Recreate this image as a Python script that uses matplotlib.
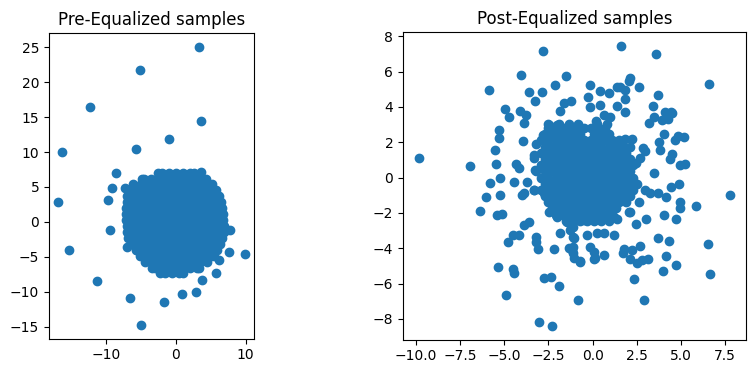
import matplotlib
matplotlib.use("Agg")
import matplotlib.pyplot as plt

# ---------------- Pre-Equalized samples ----------------
# dense core of the constellation (rows: y value, x values)
pre_core_rows = [
    (7.05, [-2.6, -2.0, -1.0, 0.0, 1.0, 2.0, 2.6]),
    (6.2, [-4.9, -4.5, -3.5, -2.5, -1.5, -0.5, 0.5, 1.5, 2.5, 3.5, 4.3]),
    (5.35, [-6.1, -5.0, -4.0, -3.0, -2.0, -1.0, 0.0, 1.0, 2.0, 3.0, 4.0, 5.15]),
    (4.5, [-6.8, -6.5, -5.5, -4.5, -3.5, -2.5, -1.5, -0.5, 0.5, 1.5, 2.5, 3.5, 4.5, 5.5, 5.8]),
    (3.65, [-7.0, -6.0, -5.0, -4.0, -3.0, -2.0, -1.0, 0.0, 1.0, 2.0, 3.0, 4.0, 5.0, 6.0, 6.15]),
    (2.8, [-7.05, -6.5, -5.5, -4.5, -3.5, -2.5, -1.5, -0.5, 0.5, 1.5, 2.5, 3.5, 4.5, 5.5, 6.5]),
    (1.95, [-7.1, -6.0, -5.0, -4.0, -3.0, -2.0, -1.0, 0.0, 1.0, 2.0, 3.0, 4.0, 5.0, 6.0, 6.67]),
    (1.1, [-7.15, -6.5, -5.5, -4.5, -3.5, -2.5, -1.5, -0.5, 0.5, 1.5, 2.5, 3.5, 4.5, 5.5, 6.5, 6.75]),
    (0.25, [-7.1, -6.0, -5.0, -4.0, -3.0, -2.0, -1.0, 0.0, 1.0, 2.0, 3.0, 4.0, 5.0, 6.0, 6.8]),
    (-0.6, [-7.05, -6.5, -5.5, -4.5, -3.5, -2.5, -1.5, -0.5, 0.5, 1.5, 2.5, 3.5, 4.5, 5.5, 6.5, 6.85]),
    (-1.45, [-7.0, -6.0, -5.0, -4.0, -3.0, -2.0, -1.0, 0.0, 1.0, 2.0, 3.0, 4.0, 5.0, 6.0, 6.85]),
    (-2.3, [-6.9, -6.5, -5.5, -4.5, -3.5, -2.5, -1.5, -0.5, 0.5, 1.5, 2.5, 3.5, 4.5, 5.5, 6.5, 6.6]),
    (-3.15, [-6.3, -6.0, -5.0, -4.0, -3.0, -2.0, -1.0, 0.0, 1.0, 2.0, 3.0, 4.0, 5.0, 6.0, 6.3]),
    (-4.0, [-5.7, -5.5, -4.5, -3.5, -2.5, -1.5, -0.5, 0.5, 1.5, 2.5, 3.5, 4.5, 5.5, 5.95]),
    (-4.85, [-5.05, -4.0, -3.0, -2.0, -1.0, 0.0, 1.0, 2.0, 3.0, 4.0, 5.0, 5.4]),
    (-5.7, [-4.35, -3.5, -2.5, -1.5, -0.5, 0.5, 1.5, 2.5, 3.5, 4.4]),
    (-6.55, [-3.45, -3.0, -2.0, -1.0, 0.0, 1.0, 2.0, 3.0, 3.3]),
    (-7.35, [-2.3, -1.5, -0.5, 0.5, 1.0]),
]
# scattered outliers
pre_out_x = [3.62, -8.62, -9.19, -9.76, -9.38, -7.05, 7.62, 9.86, 6.24, 5.81,
             3.76, 2.86, 0.90, -1.71, -4.95, -6.62, -11.24, -15.24, -16.81, -16.29,
             -12.29, -5.19, 3.33, 3.62, -0.90, -5.71, 7.70, -7.20]
pre_out_y = [7.10, 6.96, 4.83, 3.12, -1.23, -3.55, -4.26, -4.55, -5.49, -7.34,
             -8.29, -10.09, -10.32, -11.51, -14.73, -10.89, -8.43, -4.07, 2.84, 9.94,
             16.48, 21.73, 25.00, 14.49, 11.93, 10.37, -1.20, 4.90]

# ---------------- Post-Equalized samples ----------------
post_core_rows = [
    (3.05, [-2.5, -1.9, -1.35, -0.8, 0.25, 0.8]),
    (2.8, [-2.5, -2.1, -1.7, -1.3, -0.9, -0.5, -0.1, 0.3, 0.7]),
    (2.45, [-2.7, -2.3, -1.9, -1.5, -1.1, -0.7, 0.1, 0.5, 0.9]),
    (2.1, [-2.9, -2.5, -2.1, -1.7, -1.3, -0.9, -0.5, -0.1, 0.3, 0.7, 1.1, 1.5]),
    (1.75, [-2.7, -2.3, -1.9, -1.5, -1.1, -0.7, -0.3, 0.1, 0.5, 0.9, 1.3, 1.7, 2.1]),
    (1.4, [-2.9, -2.5, -2.1, -1.7, -1.3, -0.9, -0.5, -0.1, 0.3, 0.7, 1.1, 1.5, 1.9]),
    (1.05, [-2.7, -2.3, -1.9, -1.5, -1.1, -0.7, -0.3, 0.1, 0.5, 0.9, 1.3, 1.7, 2.1]),
    (0.7, [-2.9, -2.5, -2.1, -1.7, -1.3, -0.9, -0.5, -0.1, 0.3, 0.7, 1.1, 1.5, 1.9, 2.3]),
    (0.35, [-2.7, -2.3, -1.9, -1.5, -1.1, -0.7, -0.3, 0.1, 0.5, 0.9, 1.3, 1.7, 2.1]),
    (0.0, [-2.9, -2.5, -2.1, -1.7, -1.3, -0.9, -0.5, -0.1, 0.3, 0.7, 1.1, 1.5, 1.9, 2.3]),
    (-0.35, [-2.7, -2.3, -1.9, -1.5, -1.1, -0.7, -0.3, 0.1, 0.5, 0.9, 1.3, 1.7, 2.1, 2.5]),
    (-0.7, [-2.9, -2.5, -2.1, -1.7, -1.3, -0.9, -0.5, -0.1, 0.3, 0.7, 1.1, 1.5, 1.9, 2.3]),
    (-1.05, [-2.7, -2.3, -1.9, -1.5, -1.1, -0.7, -0.3, 0.1, 0.5, 0.9, 1.3, 1.7, 2.1]),
    (-1.4, [-2.5, -2.1, -1.7, -1.3, -0.9, -0.5, -0.1, 0.3, 0.7, 1.1, 1.5, 1.9]),
    (-1.75, [-2.3, -1.9, -1.5, -1.1, -0.7, -0.3, 0.1, 0.5, 0.9, 1.3]),
    (-2.1, [-2.1, -1.7, -1.3, -0.9, -0.5, -0.1, 0.3, 0.7, 1.1]),
    (-2.45, [-1.5, -1.1, -0.7, -0.3, 0.1, 0.5, 0.9]),
]
post_out_x = [
    # upper left
    -9.85, -6.96, -5.89, -4.06, -2.81, -1.51, -2.15, -3.62, -2.89, -3.25,
    -1.60, -1.21, -1.83, -4.98, -4.75, -4.13, -3.75, -3.87, -5.32, -5.32,
    -3.96, -5.55, -3.19, -3.34, -3.25, -5.47, -4.34, -4.15, -2.49, -2.02,
    -1.36, -2.81, -2.30, -3.30, -3.21,
    # upper right
    1.62, 3.61, 6.57, 2.13, 2.04, 2.65, -0.17, 0.44, 0.91, 1.38,
    1.57, 1.85, 1.85, 3.70, -0.28, 0.40, -0.13, 1.38, 1.85, 3.42,
    4.12, 4.46, 3.46, 3.93, 4.25, 3.17, 4.02, 4.81, 5.15, 4.68,
    3.74, 3.80, 4.49, 4.40, 4.97, 5.21, 3.46, 1.85, 2.23, 2.85,
    2.98, 2.70, 2.47, 0.21, 0.62, 1.00, 4.51,
    # lower right
    7.80, 4.87, 4.44, 4.17, 4.97, 4.93, 5.87, 4.02, 4.70, 3.00,
    2.46, 2.04, 2.13, 2.61, 3.27, 3.68, 3.68, 4.30, 6.51, 2.70,
    2.23, 1.76, 1.70, 2.13, 2.51, 2.79, 3.12, 4.17, 4.74, 3.98,
    6.67, 2.32, -0.85, 2.93, 1.19, -0.32, 0.25, 0.62, -0.13, 0.06,
    0.15, 0.62, -0.73, -1.11, -1.11, -1.11, -1.11, -0.51, 0.06, 0.62,
    1.19, 1.38, 2.98, 0.09, -0.74,
    # lower left
    -5.79, -5.27, -4.47, -3.72, -3.34, -6.02, -5.26, -4.00, -3.87, -6.36,
    -5.42, -5.13, -3.87, -3.62, -4.51, -4.19, -4.81, -3.19, -3.19, -3.11,
    -2.21, -5.38, -4.51, -4.47, -2.77, -2.36, -1.92, -4.89, -3.06, -2.30,
    -2.77, -2.49, -1.83, -1.26, -1.07, -1.36, -1.17, -1.07, -2.02, -1.45,
    -1.26, -3.32,
]
post_out_y = [
    # upper left
    1.08, 0.65, 4.98, 5.83, 7.15, 5.76, 5.23, 4.82, 4.82, 4.33,
    4.23, 4.33, 3.78, 3.89, 3.40, 3.76, 3.53, 3.06, 2.69, 2.22,
    2.06, 1.56, 1.88, 1.27, 0.43, 0.75, 0.75, 0.56, 2.97, 2.97,
    2.87, 2.40, 2.50, 1.08, 0.39,
    # upper right
    7.43, 6.98, 5.32, 5.64, 5.48, 5.10, 5.23, 4.89, 4.76, 5.10,
    5.14, 4.95, 4.44, 4.66, 4.53, 4.10, 3.97, 4.04, 3.72, 4.04,
    3.72, 3.72, 3.40, 3.25, 3.29, 3.06, 2.46, 2.35, 2.31, 2.12,
    2.03, 1.56, 1.33, 1.03, 0.71, 0.76, 0.27, 2.18, 2.18, 1.65,
    1.52, 1.09, 0.84, 3.21, 3.53, 3.44, 3.67,
    # lower right
    -0.99, -0.37, -0.52, -1.08, -1.36, -1.74, -1.61, -2.12, -2.36, -2.36,
    -2.63, -1.95, -1.95, -1.40, -0.89, -0.86, -3.44, -3.57, -3.76, -3.87,
    -4.10, -4.04, -4.29, -4.62, -4.85, -4.66, -4.61, -4.44, -4.94, -5.28,
    -5.47, -5.74, -6.92, -6.92, -3.25, -3.25, -3.16, -3.16, -3.91, -4.19,
    -4.57, -4.38, -4.72, -4.29, -3.91, -2.78, -3.34, -2.40, -2.31, -2.21,
    -2.21, -2.36, -0.72, -4.63, -4.76,
    # lower left
    -0.29, -0.05, -0.23, -0.23, -0.71, -1.12, -0.99, -0.99, -0.89, -1.87,
    -2.12, -2.06, -2.68, -2.50, -3.25, -3.25, -3.66, -3.34, -3.63, -4.04,
    -4.06, -5.08, -5.19, -5.38, -5.70, -5.64, -6.13, -6.64, -8.19, -8.39,
    -0.89, -1.93, -3.16, -2.97, -3.44, -4.00, -4.10, -4.57, -2.21, -2.50,
    -2.59, -0.72,
]

titles = ["Pre-Equalized samples", "Post-Equalized samples"]
pre_xticks = [-10, 0, 10]
pre_yticks = [-15, -10, -5, 0, 5, 10, 15, 20, 25]
post_xticks = [-10.0, -7.5, -5.0, -2.5, 0.0, 2.5, 5.0, 7.5]
post_yticks = [-8, -6, -4, -2, 0, 2, 4, 6, 8]


def flatten(rows, out_x, out_y):
    xs, ys = [], []
    for yv, row in rows:
        xs.extend(row)
        ys.extend([yv] * len(row))
    return xs + list(out_x), ys + list(out_y)


fig = plt.figure(figsize=(7.56, 3.74), dpi=100)
ax1 = fig.add_axes([49 / 756, 34 / 374, 205 / 756, 308 / 374])
ax2 = fig.add_axes([403 / 756, 34 / 374, 343 / 756, 308 / 374])

px, py = flatten(pre_core_rows, pre_out_x, pre_out_y)
ax1.scatter(px, py, color="#1f77b4")
ax1.set_aspect("equal")
ax1.set_title(titles[0])
ax1.set_xticks(pre_xticks)
ax1.set_yticks(pre_yticks)

qx, qy = flatten(post_core_rows, post_out_x, post_out_y)
ax2.scatter(qx, qy, color="#1f77b4")
ax2.set_aspect("equal")
ax2.set_title(titles[1])
ax2.set_xticks(post_xticks)
ax2.set_yticks(post_yticks)

fig.savefig("out.png", dpi=100)
